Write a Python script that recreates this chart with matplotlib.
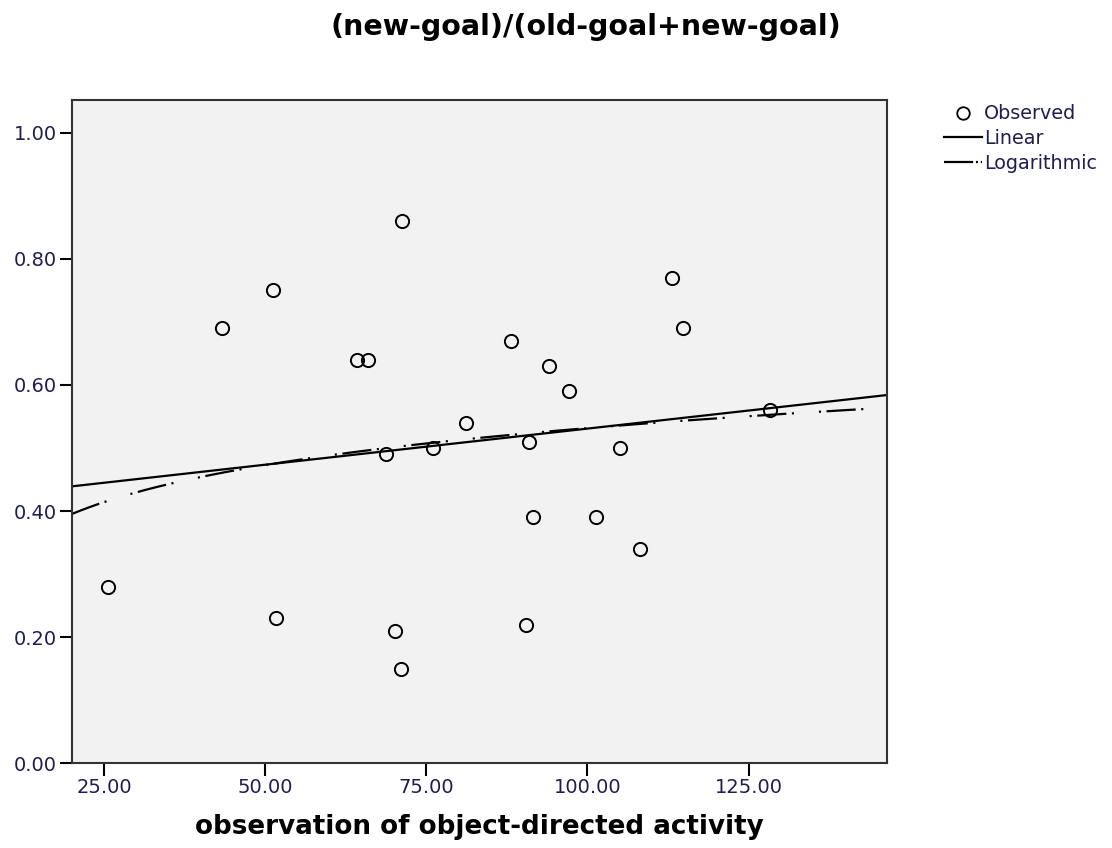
import numpy as np
import matplotlib
matplotlib.use("Agg")
import matplotlib.pyplot as plt
from matplotlib.lines import Line2D

# observed points
activity = [25.6, 43.3, 51.2, 51.6, 64.2, 66.0, 71.3, 68.8, 70.1, 71.0, 76.1, 81.2,
            88.2, 91.0, 91.6, 90.4, 94.1, 97.2, 101.4, 105.0, 108.2, 113.2, 114.9, 128.4]
ratio = [0.28, 0.69, 0.75, 0.23, 0.64, 0.64, 0.86, 0.49, 0.21, 0.15, 0.50, 0.54,
         0.67, 0.51, 0.39, 0.22, 0.63, 0.59, 0.39, 0.50, 0.34, 0.77, 0.69, 0.56]

x_ticks = [25, 50, 75, 100, 125]
y_ticks = [0.0, 0.2, 0.4, 0.6, 0.8, 1.0]

plt.rcParams['lines.scale_dashes'] = False
txt = '#1e1e50'

fig = plt.figure(figsize=(11.12, 8.48), dpi=100)
ax = fig.add_axes([0.0647, 0.100, 0.733, 0.782])
ax.set_facecolor('#f2f2f2')

xa = np.array(activity)
ya = np.array(ratio)
xs = np.linspace(20, 146.5, 200)

# linear fit
b1, b0 = np.polyfit(xa, ya, 1)
ax.plot(xs, b0 + b1 * xs, color='black', lw=1.6, zorder=2)

# logarithmic fit
c1, c0 = np.polyfit(np.log(xa), ya, 1)
log_line, = ax.plot(xs, c0 + c1 * np.log(xs), color='black', lw=1.6, zorder=2)
log_line.set_dashes((21, 4, 1.5, 18, 1.5, 4))

ax.plot(activity, ratio, 'o', mfc='none', mec='black', ms=9.5, mew=1.4, zorder=3)

ax.set_xlim(20, 146.5)
ax.set_ylim(0, 1.052)
ax.set_xticks(x_ticks)
ax.set_xticklabels(['%.2f' % v for v in x_ticks])
ax.set_yticks(y_ticks)
ax.set_yticklabels(['%.2f' % v for v in y_ticks])
ax.tick_params(direction='out', length=9, width=1.5, pad=2, labelsize=14, labelcolor=txt)
for s in ax.spines.values():
    s.set_linewidth(1.5)
    s.set_color('#333333')

ax.set_xlabel('observation of object-directed activity', fontsize=18.8, fontweight='bold', labelpad=12)
fig.text(0.527, 0.968, '(new-goal)/(old-goal+new-goal)', ha='center', va='center',
         fontsize=20.5, fontweight='bold')

handles = [Line2D([], [], ls='none', marker='o', mfc='none', mec='black', ms=9, mew=1.3),
           Line2D([], [], color='black', lw=1.6),
           Line2D([], [], color='black', lw=1.6, dashes=(21, 2, 1.5, 2))]
leg = fig.legend(handles, ['Observed', 'Linear', 'Logarithmic'], loc='upper left',
                 bbox_to_anchor=(0.842, 0.886), frameon=False, fontsize=13.8,
                 handlelength=2.0, handletextpad=0.1, labelspacing=0.3, borderaxespad=0)
for t in leg.get_texts():
    t.set_color(txt)

plt.savefig("out.png")
